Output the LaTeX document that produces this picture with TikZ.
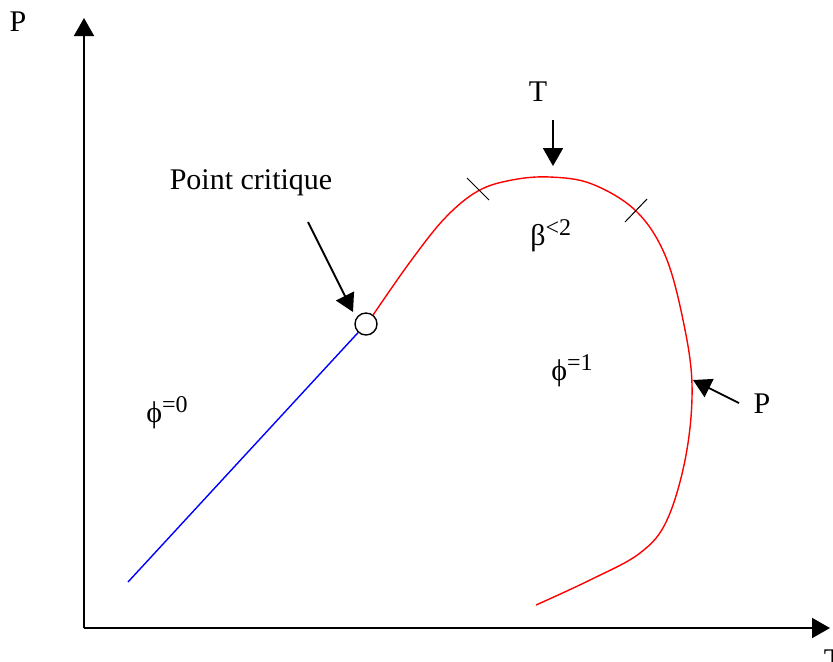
\documentclass[tikz,border=0pt]{standalone}
\usepackage{fontspec}
\setmainfont{Liberation Serif}
\usetikzlibrary{arrows.meta}
\definecolor{liquid}{HTML}{0000FF}
\definecolor{vapour}{HTML}{FF0000}
\newcommand\supr[1]{\raisebox{0.33em}{\fontsize{12}{13}\selectfont #1}}
\tikzset{
    axisline/.style={
        line width=0.9pt, -{Triangle[length=9pt,width=10pt]}
    },
    arrow/.style={
        line width=0.9pt, -{Triangle[length=9pt,width=10pt]}
    },
    txt/.style={
        inner sep=0pt, font=\fontsize{15}{18}\selectfont
    },
    critpt/.style={
        circle, draw, line width=0.7pt, fill=white, minimum size=11pt, inner sep=0pt
    },
    tickmark/.style={
        line width=0.5pt
    }
}

\begin{document}
\begin{tikzpicture}[x=0.5pt, y=-0.5pt]
    \useasboundingbox (0,0) rectangle (833,661);

    % ── Axes ──
    \coordinate (origin) at (84,628);
    \coordinate (ptop)   at (84,18);
    \coordinate (tend)   at (830,628);
    \draw[axisline] (origin) -- (ptop);
    \draw[axisline] (origin) -- (tend);
    \node[txt] (paxis) at (18,22)  {P};
    \node[txt] (taxis) at (833,660) {T};

    % ── Curves ──
    \node[critpt] (crit) at (366,324) {};
    \coordinate (liqstart) at (128,582);
    \draw[liquid, line width=0.7pt] (liqstart) -- (crit);
    \draw[vapour, line width=0.7pt] plot[smooth, tension=0.6] coordinates {
        (crit.52) (410,262) (445,218) (478,191) (512,180) (550,177)
        (592,184) (636,211) (665,255) (683,320) (692,385) (686,455)
        (667,520) (640,553) (590,580) (536,605)};

    % ── Ticks ──
    \coordinate (tickAa) at (467,178);
    \coordinate (tickAb) at (489,200);
    \coordinate (tickBa) at (647,199);
    \coordinate (tickBb) at (625,222);
    \draw[tickmark] (tickAa) -- (tickAb);
    \draw[tickmark] (tickBa) -- (tickBb);

    % ── Labels ──
    \node[txt] (critlabel) at (251,183) {Point critique};
    \node[txt] (ttop)      at (538,92)  {T};
    \node[txt] (pright)    at (762,404) {P};
    \node[txt, anchor=base west] (beta) at (530,245) {β\supr{<2}};
    \node[txt, anchor=base west] (phizero) at (146,422) {ϕ\supr{=0}};
    \node[txt, anchor=base west] (phione)  at (551,380) {ϕ\supr{=1}};

    % ── Annotation arrows ──
    \coordinate (critA) at (308,222);
    \coordinate (critB) at (353,312);
    \coordinate (ttopA) at (553,120);
    \coordinate (ttopB) at (553,166);
    \coordinate (prA)   at (739,403);
    \coordinate (prB)   at (693,380);
    \draw[arrow] (critA) -- (critB);
    \draw[arrow] (ttopA) -- (ttopB);
    \draw[arrow] (prA)   -- (prB);

\end{tikzpicture}
\end{document}
